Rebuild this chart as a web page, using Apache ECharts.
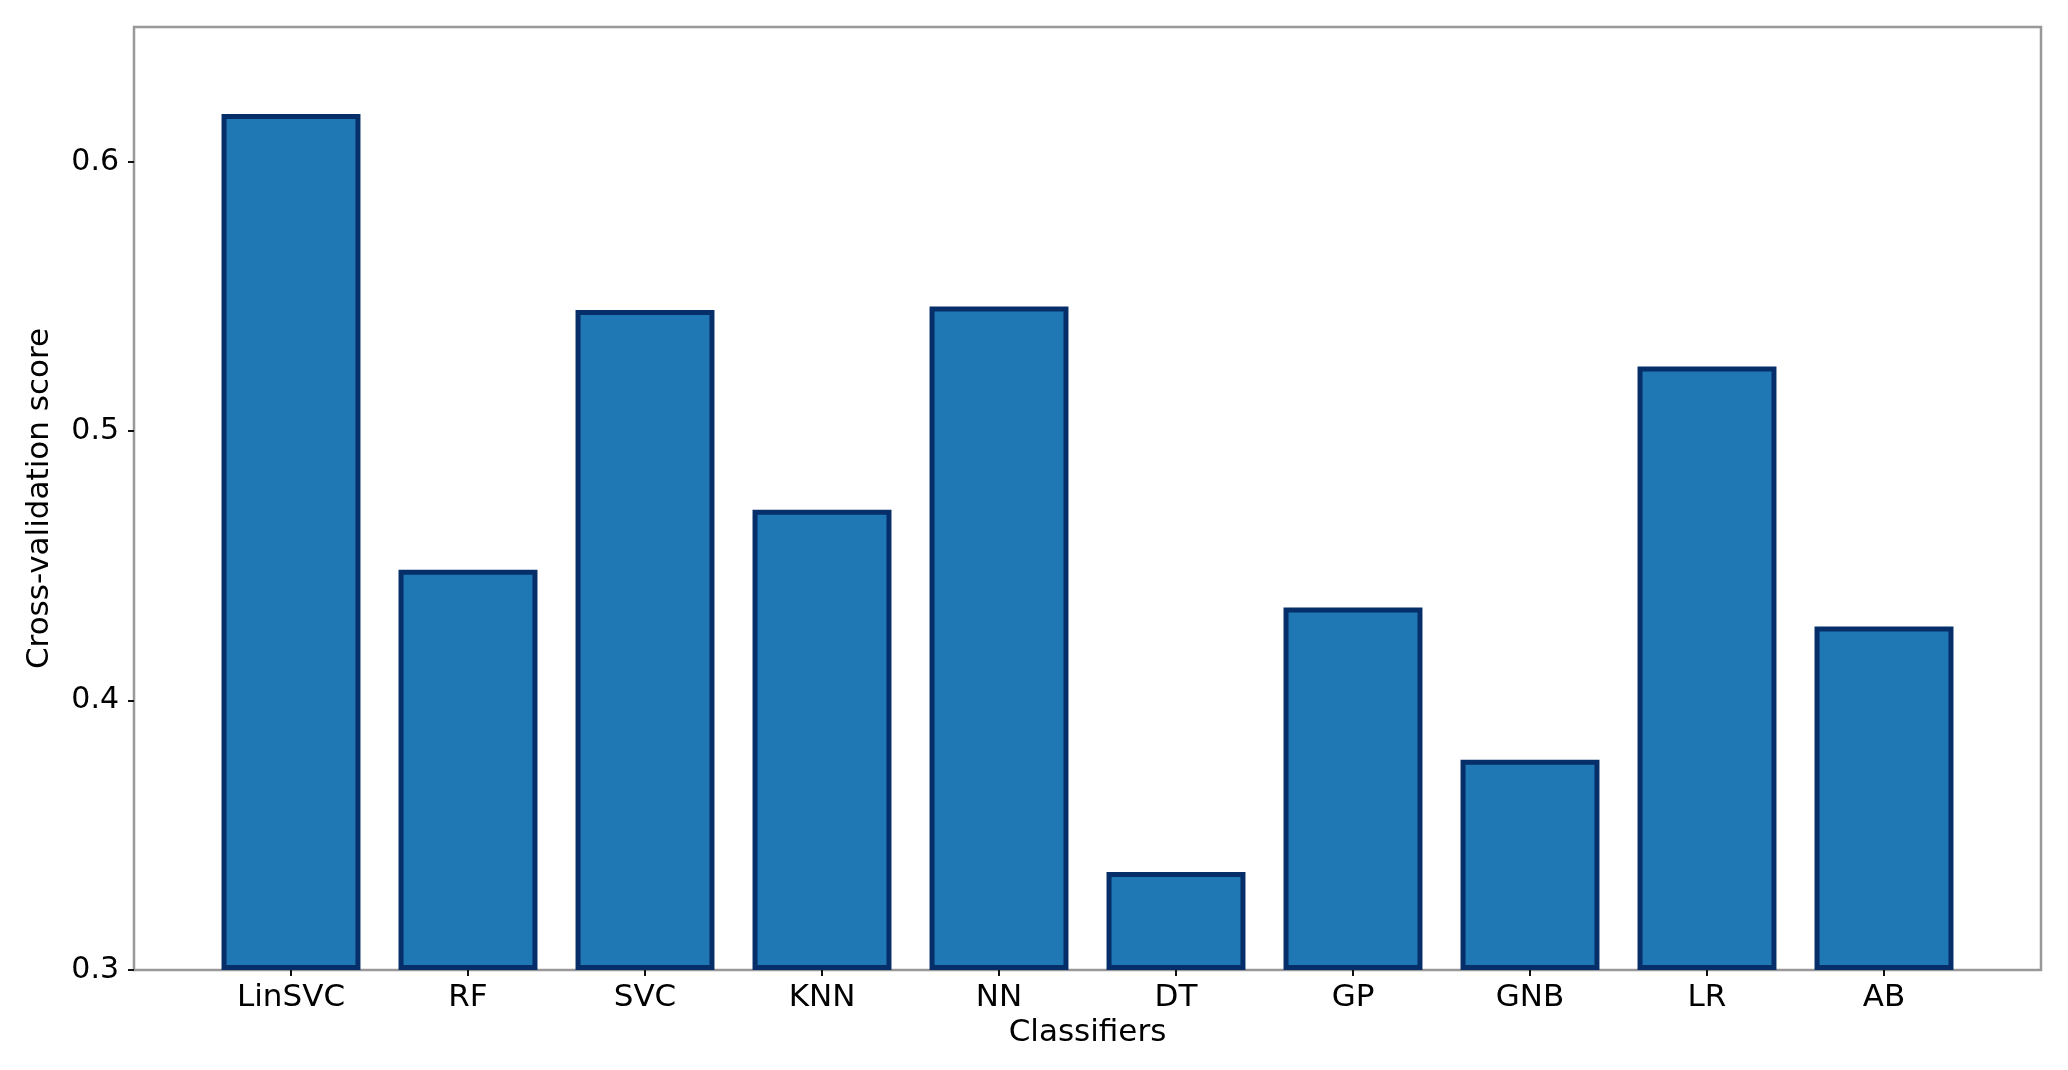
<!DOCTYPE html>
<html>
<head>
<meta charset="utf-8">
<script src="https://cdn.jsdelivr.net/npm/echarts@6/dist/echarts.min.js"></script>
<style>
html,body{margin:0;padding:0;background:#fff;}
#chart{width:2068px;height:1070px;}
</style>
</head>
<body>
<div id="chart"></div>
<script>
const categories = ['LinSVC','RF','SVC','KNN','NN','DT','GP','GNB','LR','AB'];
const scores = [0.6177, 0.4486, 0.545, 0.4708, 0.5463, 0.3364, 0.4345, 0.378, 0.524, 0.4275];
const yTicks = [0.3, 0.4, 0.5, 0.6];
const yMin = 0.3, yMax = 0.65;

const font = 'DejaVu Sans';
const chart = echarts.init(document.getElementById('chart'), null, {renderer:'canvas'});
chart.setOption({
  backgroundColor: '#ffffff',
  animation: false,
  grid: [
    {left: 134, top: 27, width: 1907, height: 943, show: true, borderColor: '#999999', borderWidth: 2.5, backgroundColor: 'transparent'},
    {left: 202.5, top: 27, width: 1770, height: 943}
  ],
  xAxis: [
    {type: 'value', gridIndex: 0, show: false, min: 0, max: 1},
    {
      type: 'category', gridIndex: 1, data: categories,
      axisLine: {show: false},
      axisTick: {show: true, alignWithLabel: true, length: 6, lineStyle: {color: '#111', width: 2}},
      axisLabel: {color: '#000', fontFamily: font, fontSize: 31, margin: 12},
      name: 'Classifiers', nameLocation: 'middle', nameGap: 47,
      nameTextStyle: {color: '#000', fontFamily: font, fontSize: 31}
    }
  ],
  yAxis: [
    {type: 'value', gridIndex: 0, show: false, min: 0, max: 1},
    {
      type: 'value', gridIndex: 1, min: yMin, max: yMax, startValue: yMin,
      position: 'left', offset: 68.5,
      axisLine: {show: false},
      splitLine: {show: false},
      axisTick: {show: true, length: 6, customValues: yTicks, lineStyle: {color: '#111', width: 2}},
      axisLabel: {color: '#000', fontFamily: font, fontSize: 30, margin: 15, customValues: yTicks,
        formatter: v => v.toFixed(1)},
      name: 'Cross-validation score', nameLocation: 'middle', nameGap: 79,
      nameTextStyle: {color: '#000', fontFamily: font, fontSize: 31}
    }
  ],
  series: [{
    type: 'bar', xAxisIndex: 1, yAxisIndex: 1,
    data: scores,
    barWidth: '78.5%',
    itemStyle: {color: '#1f77b4', borderColor: '#062f69', borderWidth: 5}
  }]
});
</script>
</body>
</html>
